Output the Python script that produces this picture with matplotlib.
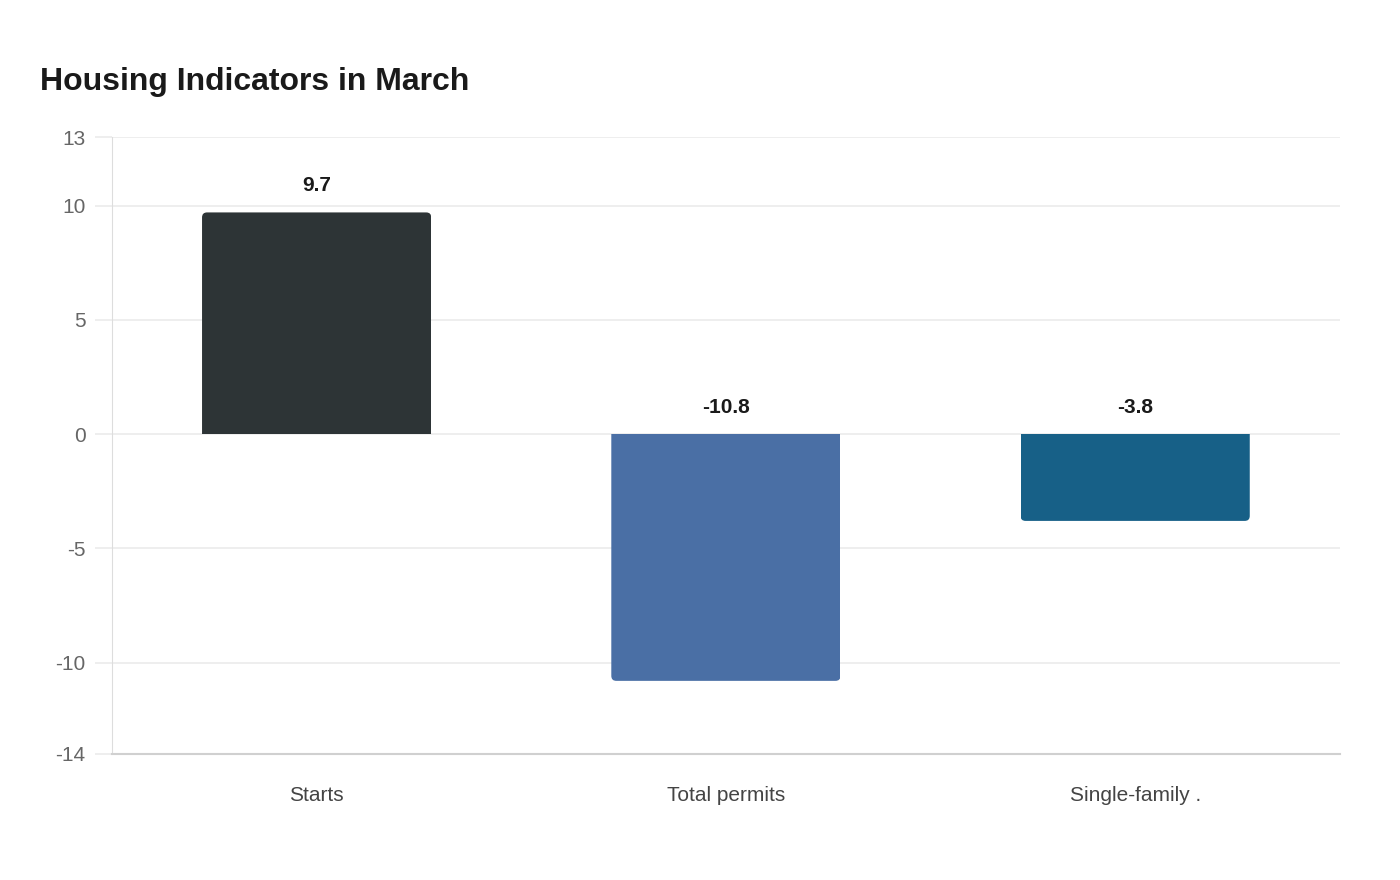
import matplotlib
matplotlib.use("Agg")
import matplotlib.pyplot as plt
from matplotlib.patches import FancyBboxPatch

# data
categories = ["Starts", "Total permits", "Single-family ."]
values = [9.7, -10.8, -3.8]
colors = ["#2d3436", "#4a6fa5", "#176087"]
yticks = [13, 10, 5, 0, -5, -10, -14]

plt.rcParams['font.family'] = ['Liberation Sans', 'DejaVu Sans']

fig = plt.figure(figsize=(14, 8.8), dpi=100)
ax = fig.add_axes([0.08, 0.1432, 0.877, 0.7011])

x = list(range(len(categories)))
bars = ax.bar(x, values, width=0.56, color=colors, zorder=3)

ax.set_xlim(-0.5, len(categories) - 0.5)
ax.set_ylim(min(yticks), max(yticks))
ax.set_yticks(yticks)
ax.set_yticklabels([str(t) for t in yticks])
ax.set_xticks(x)
ax.set_xticklabels(categories)

# rounded ends on the far side of each bar: a rounded box running past zero,
# clipped by the plain bar rectangle
fig.canvas.draw()
pts = ax.transData.inverted().transform([(0, 0), (1, 1)])
dx = abs(pts[1][0] - pts[0][0])
dy = abs(pts[1][1] - pts[0][1])
r = 5 * dx
extra = 8 * dy
for b, c in zip(bars, colors):
    bx, bw, bh = b.get_x(), b.get_width(), b.get_height()
    b.set_visible(False)
    if bh >= 0:
        y0, h = -extra, bh + extra
    else:
        y0, h = bh, -bh + extra
    p = FancyBboxPatch((bx, y0), bw, h,
                       boxstyle=f"round,pad=0,rounding_size={r}",
                       mutation_aspect=dy / dx, fc=c, ec="none", zorder=3)
    ax.add_patch(p)
    p.set_clip_path(b)

for xi, v in zip(x, values):
    ax.annotate(f"{v}", (xi, max(v, 0)), xytext=(0, 27), textcoords="offset pixels",
                ha="center", va="center", fontsize=15, fontweight="bold", color="#1a1a1a")

ax.grid(axis="y", color="#ebebeb", linewidth=1.2, zorder=0)
ax.grid(axis="x", visible=False)
for s in ["top", "right"]:
    ax.spines[s].set_visible(False)
ax.spines["left"].set_color("#dddddd")
ax.spines["bottom"].set_color("#d0d0d0")
ax.spines["bottom"].set_linewidth(1.5)
ax.tick_params(axis="y", length=12, color="#ebebeb", width=1.2, pad=7,
               labelsize=15, labelcolor="#666666")
ax.tick_params(axis="x", length=0, pad=23, labelsize=15, labelcolor="#444444")

fig.text(40 / 1400, 1 - 82 / 880, "Housing Indicators in March", fontsize=23,
         fontweight="bold", color="#1a1a1a", ha="left", va="center")

fig.savefig("out.png", dpi=100, facecolor="white")
